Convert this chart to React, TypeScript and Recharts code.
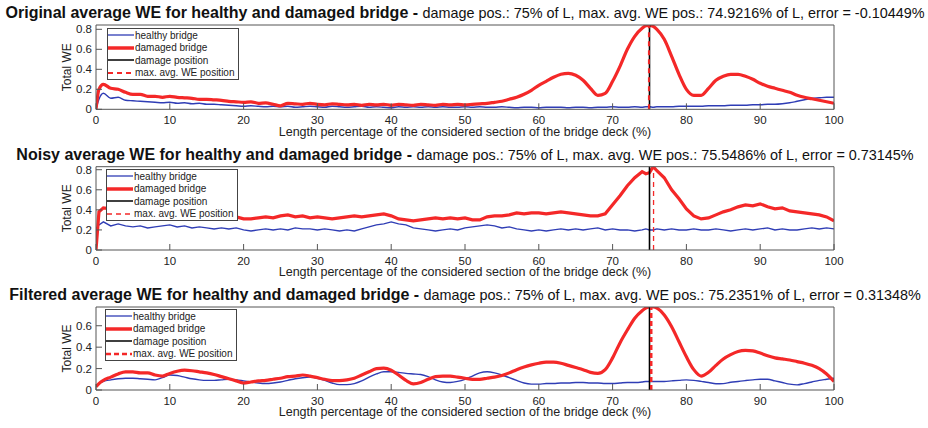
import { LineChart, Line, XAxis, YAxis, ReferenceLine, Legend, Label } from "recharts";

// x positions along the deck (%)
const X = [
  0, 0.4, 1, 2, 3, 4, 5, 6, 7, 8, 9,
  10, 11, 12, 13, 14, 15, 16, 17, 18, 19,
  20, 21, 22, 23, 24, 25, 26, 27, 28, 29,
  30, 31, 32, 33, 34, 35, 36, 37, 38, 39,
  40, 41, 42, 43, 44, 45, 46, 47, 48, 49,
  50, 51, 52, 53, 54, 55, 56, 57, 58, 59,
  60, 61, 62, 63, 64, 65, 66, 67, 68, 69,
  70, 71, 72, 73, 74, 74.5, 75, 75.5, 76, 77, 78, 79,
  80, 81, 82, 83, 84, 85, 86, 87, 88, 89,
  90, 91, 92, 93, 94, 95, 96, 97, 98, 99, 100,
];

const origHealthy = [
  0, 0.1, 0.16, 0.11, 0.12, 0.09, 0.085, 0.08, 0.075, 0.07, 0.065,
  0.07, 0.06, 0.065, 0.055, 0.06, 0.05, 0.05, 0.045, 0.04, 0.035,
  0.03, 0.035, 0.03, 0.025, 0.03, 0.025, 0.03, 0.02, 0.025, 0.03,
  0.025, 0.02, 0.03, 0.025, 0.02, 0.025, 0.03, 0.02, 0.025, 0.02,
  0.015, 0.025, 0.02, 0.025, 0.02, 0.025, 0.02, 0.025, 0.02, 0.02,
  0.025, 0.02, 0.025, 0.02, 0.02, 0.025, 0.02, 0.015, 0.02, 0.02,
  0.015, 0.02, 0.02, 0.02, 0.015, 0.02, 0.02, 0.015, 0.02, 0.02,
  0.025, 0.02, 0.02, 0.025, 0.02, 0.025, 0.025, 0.02, 0.025, 0.025, 0.025, 0.03,
  0.03, 0.03, 0.03, 0.035, 0.035, 0.035, 0.04, 0.04, 0.04, 0.045,
  0.045, 0.05, 0.05, 0.055, 0.065, 0.08, 0.095, 0.11, 0.115, 0.12, 0.12,
];

const origDamaged = [
  0, 0.2, 0.25, 0.21, 0.2, 0.17, 0.15, 0.15, 0.13, 0.13, 0.12,
  0.13, 0.12, 0.115, 0.11, 0.1, 0.1, 0.095, 0.09, 0.08, 0.075,
  0.07, 0.075, 0.06, 0.065, 0.05, 0.035, 0.06, 0.055, 0.05, 0.06,
  0.05, 0.045, 0.055, 0.05, 0.045, 0.05, 0.04, 0.05, 0.045, 0.05,
  0.04, 0.05, 0.045, 0.04, 0.05, 0.045, 0.04, 0.05, 0.045, 0.05,
  0.045, 0.05, 0.055, 0.06, 0.07, 0.08, 0.1, 0.12, 0.15, 0.19,
  0.24, 0.28, 0.32, 0.35, 0.36, 0.34, 0.29, 0.21, 0.14, 0.16,
  0.28, 0.43, 0.6, 0.73, 0.81, 0.835, 0.84, 0.83, 0.8, 0.7, 0.53, 0.35,
  0.2, 0.14, 0.14, 0.21, 0.29, 0.33, 0.35, 0.35, 0.33, 0.3,
  0.26, 0.23, 0.21, 0.19, 0.17, 0.14, 0.12, 0.105, 0.09, 0.075, 0.06,
];

const noisyHealthy = [
  0.21, 0.25, 0.28, 0.24, 0.26, 0.24, 0.23, 0.24, 0.22, 0.23, 0.24,
  0.25, 0.23, 0.24, 0.22, 0.23, 0.22, 0.21, 0.22, 0.21, 0.22,
  0.2, 0.19, 0.2, 0.21, 0.2, 0.21, 0.2, 0.22, 0.21, 0.21,
  0.2, 0.21, 0.2, 0.19, 0.2, 0.19, 0.21, 0.23, 0.25, 0.26,
  0.28, 0.26, 0.25, 0.22, 0.21, 0.2, 0.19, 0.2, 0.21, 0.2,
  0.22, 0.23, 0.24, 0.25, 0.24, 0.22, 0.23, 0.21, 0.2, 0.19,
  0.2, 0.19, 0.2, 0.21, 0.2, 0.21, 0.2, 0.21, 0.22, 0.2,
  0.21, 0.2, 0.2, 0.19, 0.2, 0.21, 0.2, 0.2, 0.21, 0.2, 0.21, 0.2,
  0.2, 0.21, 0.2, 0.2, 0.21, 0.2, 0.19, 0.2, 0.21, 0.2,
  0.21, 0.22, 0.2, 0.21, 0.2, 0.2, 0.21, 0.22, 0.21, 0.22, 0.21,
];

const noisyDamaged = [
  0, 0.38, 0.42, 0.41, 0.39, 0.38, 0.37, 0.36, 0.37, 0.36, 0.35,
  0.36, 0.35, 0.34, 0.35, 0.34, 0.33, 0.34, 0.33, 0.32, 0.33,
  0.31, 0.31, 0.32, 0.33, 0.32, 0.34, 0.35, 0.33, 0.34, 0.32,
  0.33, 0.32, 0.31, 0.32, 0.33, 0.34, 0.33, 0.34, 0.35, 0.36,
  0.34, 0.31, 0.3, 0.29, 0.3, 0.31, 0.32, 0.31, 0.32, 0.31,
  0.32, 0.3, 0.3, 0.33, 0.34, 0.34, 0.35, 0.37, 0.36, 0.37,
  0.37, 0.36, 0.37, 0.38, 0.37, 0.36, 0.35, 0.34, 0.34, 0.36,
  0.45, 0.54, 0.64, 0.72, 0.78, 0.76, 0.77, 0.83, 0.79, 0.72, 0.6, 0.51,
  0.41, 0.34, 0.31, 0.32, 0.35, 0.38, 0.4, 0.43, 0.45, 0.44,
  0.46, 0.43, 0.41, 0.42, 0.39, 0.38, 0.37, 0.36, 0.35, 0.33, 0.29,
];

const filtHealthy = [
  0.03, 0.06, 0.08, 0.095, 0.105, 0.11, 0.11, 0.105, 0.1, 0.095, 0.115,
  0.14, 0.135, 0.12, 0.105, 0.095, 0.09, 0.09, 0.095, 0.1, 0.095,
  0.085, 0.075, 0.065, 0.06, 0.065, 0.075, 0.09, 0.105, 0.115, 0.12,
  0.11, 0.09, 0.065, 0.05, 0.05, 0.06, 0.085, 0.12, 0.15, 0.17,
  0.17, 0.165, 0.155, 0.15, 0.145, 0.125, 0.095, 0.075, 0.07, 0.08,
  0.1, 0.13, 0.16, 0.17, 0.16, 0.14, 0.115, 0.09, 0.065, 0.055,
  0.055, 0.06, 0.06, 0.065, 0.065, 0.07, 0.07, 0.065, 0.065, 0.06,
  0.06, 0.065, 0.07, 0.07, 0.075, 0.08, 0.08, 0.08, 0.08, 0.08, 0.085, 0.09,
  0.095, 0.09, 0.08, 0.07, 0.058, 0.06, 0.072, 0.08, 0.088, 0.095,
  0.1, 0.1, 0.085, 0.07, 0.055, 0.048, 0.06, 0.075, 0.09, 0.1, 0.11,
];

const filtDamaged = [
  0.03, 0.06, 0.09, 0.12, 0.15, 0.17, 0.17, 0.16, 0.16, 0.14, 0.13,
  0.155, 0.175, 0.185, 0.18, 0.17, 0.16, 0.145, 0.125, 0.105, 0.085,
  0.065, 0.075, 0.085, 0.09, 0.1, 0.11, 0.125, 0.13, 0.14, 0.13,
  0.115, 0.1, 0.088, 0.088, 0.095, 0.11, 0.14, 0.17, 0.2, 0.205,
  0.185, 0.14, 0.09, 0.058, 0.07, 0.1, 0.125, 0.13, 0.13, 0.12,
  0.11, 0.1, 0.1, 0.11, 0.12, 0.135, 0.16, 0.19, 0.215, 0.235,
  0.25, 0.26, 0.26, 0.25, 0.23, 0.21, 0.19, 0.165, 0.155, 0.19,
  0.3, 0.44, 0.56, 0.67, 0.74, 0.765, 0.775, 0.775, 0.765, 0.7, 0.59, 0.45,
  0.31, 0.19, 0.13, 0.165, 0.23, 0.29, 0.33, 0.36, 0.37, 0.365,
  0.345, 0.32, 0.3, 0.29, 0.28, 0.265, 0.25, 0.23, 0.2, 0.15, 0.08,
];

const xTicks = [0, 10, 20, 30, 40, 50, 60, 70, 80, 90, 100];
const legendLabels = ["healthy bridge", "damaged bridge", "damage position", "max. avg. WE position"];
const damagePos = 75;

const BLUE = "#2f3db5";
const RED = "#f42828";
const AXIS = "#555";
const TEXT = "#222";

const panels = [
  {
    bold: "Original average WE for healthy and damaged bridge - ",
    rest: "damage pos.: 75% of L, max. avg. WE pos.: 74.9216% of L, error = -0.10449%",
    healthy: origHealthy,
    damaged: origDamaged,
    maxPos: 74.9216,
    yMax: 0.843,
    yTicks: [0, 0.2, 0.4, 0.6, 0.8],
    titleY: 13,
    plotTop: 25,
    plotBottom: 109.3,
    legend: { x: 107, y: 28 },
    dash: { w: 2, d: "5 4" },
    curve: "monotone",
  },
  {
    bold: "Noisy average WE for healthy and damaged bridge - ",
    rest: "damage pos.: 75% of L, max. avg. WE pos.: 75.5486% of L, error = 0.73145%",
    healthy: noisyHealthy,
    damaged: noisyDamaged,
    maxPos: 75.5486,
    yMax: 0.83,
    yTicks: [0, 0.2, 0.4, 0.6, 0.8],
    titleY: 155,
    plotTop: 166.7,
    plotBottom: 250,
    legend: { x: 106, y: 169 },
    dash: { w: 1.3, d: "5 4" },
    curve: "linear",
  },
  {
    bold: "Filtered average WE for healthy and damaged bridge - ",
    rest: "damage pos.: 75% of L, max. avg. WE pos.: 75.2351% of L, error = 0.31348%",
    healthy: filtHealthy,
    damaged: filtDamaged,
    maxPos: 75.2351,
    yMax: 0.775,
    yTicks: [0, 0.2, 0.4, 0.6],
    titleY: 295,
    plotTop: 307,
    plotBottom: 390,
    legend: { x: 105, y: 309 },
    dash: { w: 2.5, d: "5 3" },
    curve: "monotone",
  },
];

function LegendBox({ p }: { p: any }) {
  const swatches = [
    { c: BLUE, w: 1.3, d: undefined },
    { c: RED, w: 3.5, d: undefined },
    { c: "#000", w: 1.5, d: undefined },
    { c: RED, w: p.dash.w, d: p.dash.d },
  ];
  return (
    <div
      style={{
        boxSizing: "border-box",
        width: 132,
        height: 52,
        border: "1px solid #444",
        background: "#fff",
        fontSize: 10,
        color: TEXT,
      }}
    >
      {legendLabels.map((t, i) => (
        <div key={t} style={{ height: 12.5, display: "flex", alignItems: "center" }}>
          <svg width={27} height={8} style={{ flex: "none" }}>
            <line x1={0} y1={4} x2={26} y2={4} stroke={swatches[i].c} strokeWidth={swatches[i].w} strokeDasharray={swatches[i].d} />
          </svg>
          <span style={{ whiteSpace: "nowrap" }}>{t}</span>
        </div>
      ))}
    </div>
  );
}

function Panel({ p }: { p: any }) {
  const data = X.map((x, i) => ({ x, healthy: p.healthy[i], damaged: p.damaged[i] }));
  const H = 428;
  return (
    <>
      <div
        style={{
          position: "absolute",
          left: 0,
          top: p.titleY - 10,
          width: 930,
          height: 20,
          lineHeight: "20px",
          textAlign: "center",
          whiteSpace: "nowrap",
          color: "#111",
        }}
      >
        <span style={{ fontWeight: "bold", fontSize: 16 }}>{p.bold}</span>
        <span style={{ fontSize: 14.4 }}>{p.rest}</span>
      </div>
      <div style={{ position: "absolute", left: 0, top: 0 }}>
        <LineChart
          width={928}
          height={H}
          data={data}
          margin={{ top: p.plotTop - 1, right: 93, bottom: H - p.plotBottom - 44, left: 38 }}
        >
          <XAxis
            xAxisId="b"
            dataKey="x"
            type="number"
            domain={[0, 100]}
            ticks={xTicks}
            height={44}
            tickSize={-6}
            tickMargin={13}
            stroke={AXIS}
            tick={{ fontSize: 11.5, fill: TEXT }}
            allowDataOverflow
          >
            <Label
              value="Length percentage of the considered section of the bridge deck (%)"
              position="center"
              style={{ fontSize: 12.5, fill: TEXT }}
            />
          </XAxis>
          <XAxis
            xAxisId="t"
            orientation="top"
            dataKey="x"
            type="number"
            domain={[0, 100]}
            ticks={xTicks}
            height={1}
            tickSize={-6}
            tick={false}
            stroke={AXIS}
            allowDataOverflow
          />
          <YAxis
            yAxisId="l"
            type="number"
            domain={[0, p.yMax]}
            ticks={p.yTicks}
            width={58}
            tickSize={-6}
            tickMargin={10}
            stroke={AXIS}
            tick={{ fontSize: 11.5, fill: TEXT }}
            allowDataOverflow
          >
            <Label value="Total WE" angle={-90} position="center" style={{ fontSize: 12, fill: TEXT }} />
          </YAxis>
          <YAxis
            yAxisId="r"
            orientation="right"
            type="number"
            domain={[0, p.yMax]}
            ticks={p.yTicks}
            width={1}
            tickSize={-6}
            tick={false}
            stroke={AXIS}
            allowDataOverflow
          />
          <Line
            xAxisId="b"
            yAxisId="l"
            type={p.curve}
            dataKey="healthy"
            stroke={BLUE}
            strokeWidth={1.4}
            dot={false}
            activeDot={false}
            isAnimationActive={false}
          />
          <Line
            xAxisId="b"
            yAxisId="l"
            type={p.curve}
            dataKey="damaged"
            stroke={RED}
            strokeWidth={3.2}
            dot={false}
            activeDot={false}
            isAnimationActive={false}
          />
          <ReferenceLine xAxisId="b" yAxisId="l" x={damagePos} stroke="#000" strokeWidth={1.6} />
          <ReferenceLine
            xAxisId="b"
            yAxisId="l"
            x={p.maxPos}
            stroke={RED}
            strokeWidth={p.dash.w}
            strokeDasharray={p.dash.d}
          />
          <Legend
            layout="horizontal"
            verticalAlign="middle"
            align="center"
            wrapperStyle={{ left: p.legend.x, top: p.legend.y, width: 132, height: 52 }}
            content={() => <LegendBox p={p} />}
          />
        </LineChart>
      </div>
    </>
  );
}

export default function App() {
  return (
    <div
      style={{
        position: "absolute",
        left: 0,
        top: 0,
        width: 928,
        height: 428,
        background: "#fff",
        overflow: "hidden",
        fontFamily: "'Liberation Sans', Arial, Helvetica, sans-serif",
      }}
    >
      {panels.map((p) => (
        <Panel key={p.bold} p={p} />
      ))}
    </div>
  );
}
